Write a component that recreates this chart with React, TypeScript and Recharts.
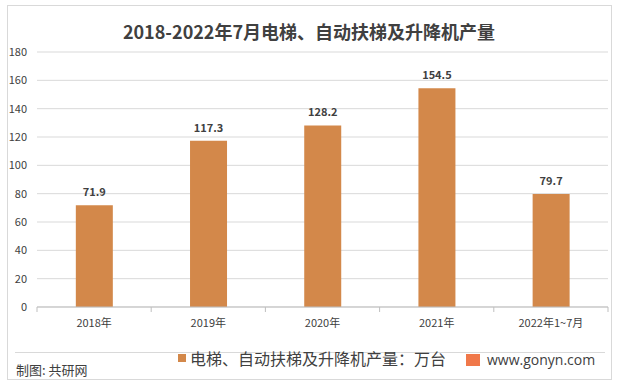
import React from 'react'
import { Bar, BarChart, CartesianGrid, LabelList, XAxis, YAxis } from 'recharts'

const categories = ['2018年', '2019年', '2020年', '2021年', '2022年1~7月']
const output = [71.9, 117.3, 128.2, 154.5, 79.7]
const yTicks = [0, 20, 40, 60, 80, 100, 120, 140, 160, 180]

const chartData = categories.map((name, i) => ({ name, output: output[i] }))

const W = 618
const H = 386
const plotLeft = 37
const plotRight = 10
const band = (W - plotLeft - plotRight) / categories.length
const font = '"Noto Sans CJK SC", "Noto Sans", sans-serif'

// Excel style: tick marks sit between categories, not on them
const CategoryTick = (props: any) => {
  const { x, y, payload, index } = props
  const left = x - band / 2
  return (
    <g>
      <line x1={left} y1={y - 8} x2={left} y2={y - 3} stroke="#bfbfbf" />
      {index === categories.length - 1 && (
        <line x1={left + band} y1={y - 8} x2={left + band} y2={y - 3} stroke="#bfbfbf" />
      )}
      <text x={x} y={y + 12} textAnchor="middle" fill="#404040" fontSize={11} fontFamily={font}>
        {payload.value}
      </text>
    </g>
  )
}

export default function App() {
  return (
    <div style={{ position: 'absolute', left: 0, top: 0, width: W, height: H, background: '#fff', fontFamily: font }}>
      <div
        style={{
          position: 'absolute',
          left: 7,
          top: 5,
          width: 605,
          height: 375,
          border: '1px solid #d9d9d9',
          boxSizing: 'border-box',
        }}
      />
      <div
        style={{
          position: 'absolute',
          left: 0,
          width: W,
          top: 18,
          textAlign: 'center',
          fontSize: 18,
          fontWeight: 'bold',
          color: '#404040',
        }}
      >
        2018-2022年7月电梯、自动扶梯及升降机产量
      </div>
      <BarChart
        width={W}
        height={H}
        data={chartData}
        margin={{ top: 52, right: plotRight, bottom: 49, left: 0 }}
        barCategoryGap="34%"
        style={{ position: 'absolute', left: 0, top: 0 }}
      >
        <CartesianGrid vertical={false} stroke="#d9d9d9" />
        <XAxis
          dataKey="name"
          axisLine={{ stroke: '#bfbfbf' }}
          tickLine={false}
          tick={<CategoryTick />}
          height={30}
          interval={0}
        />
        <YAxis
          width={plotLeft}
          domain={[0, 180]}
          ticks={yTicks}
          axisLine={false}
          tickLine={false}
          tickMargin={4}
          tick={{ fill: '#404040', fontSize: 11, fontFamily: font }}
        />
        <Bar dataKey="output" fill="#d3884a" isAnimationActive={false}>
          <LabelList
            dataKey="output"
            position="top"
            offset={9}
            fill="#404040"
            fontSize={11}
            fontWeight="bold"
            fontFamily={font}
          />
        </Bar>
      </BarChart>
      <div style={{ position: 'absolute', left: 15, top: 352, width: 590, borderTop: '1px solid #d9d9d9' }} />
      <div style={{ position: 'absolute', left: 16, top: 360, fontSize: 13, color: '#404040' }}>
        制图: 共研网
      </div>
      <div
        style={{
          position: 'absolute',
          left: 178,
          top: 346,
          display: 'flex',
          alignItems: 'center',
          fontSize: 16,
          color: '#404040',
        }}
      >
        <span style={{ display: 'inline-block', width: 8, height: 8, background: '#d3884a', marginRight: 4 }} />
        电梯、自动扶梯及升降机产量：万台
      </div>
      <div
        style={{
          position: 'absolute',
          left: 466,
          top: 350,
          display: 'flex',
          alignItems: 'center',
          fontSize: 14,
          color: '#404040',
          fontFamily: '"Open Sans", sans-serif',
        }}
      >
        <span style={{ display: 'inline-block', width: 14, height: 12, background: '#f0784a', marginRight: 7 }} />
        www.gonyn.com
      </div>
    </div>
  )
}
